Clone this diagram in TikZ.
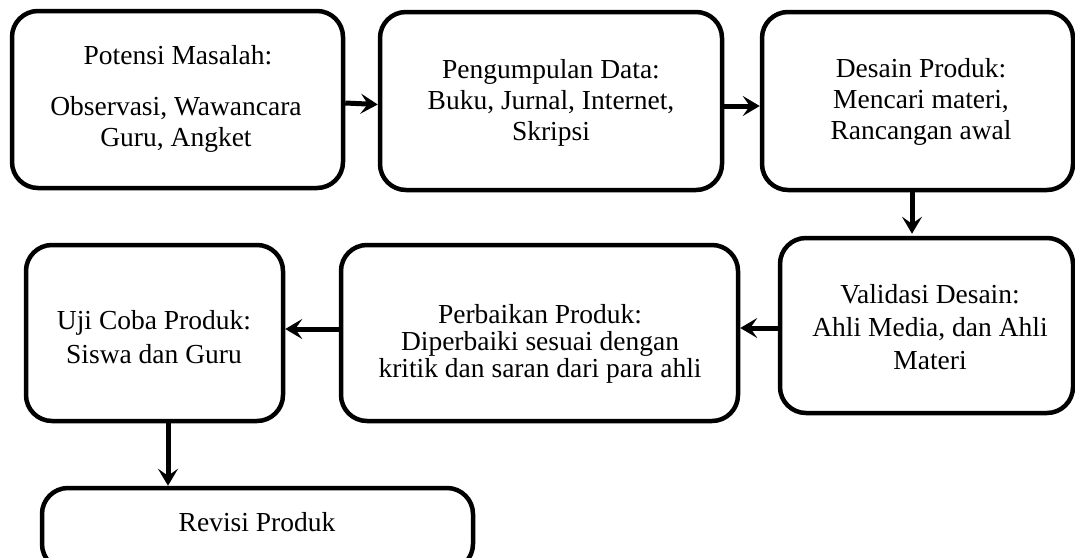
\documentclass[tikz,border=0pt]{standalone}
\usepackage{fontspec}
\setmainfont{Liberation Serif}
\usetikzlibrary{arrows.meta}
\begin{document}
\begin{tikzpicture}[x=1pt,y=-1pt,
  box/.style={draw=black, line width=4.5pt, rounded corners=26pt, inner sep=0pt, fill=white},
  txt/.style={align=center, inner sep=0pt, font=\fontsize{27.5}{31}\selectfont},
  arr/.style={line width=5pt, -{Stealth[length=17pt,width=20pt,inset=7pt]}}]
\useasboundingbox[fill=white] (0,0) rectangle (1075,557);
% boxes
\node[box, minimum width=331pt, minimum height=177pt] (b1) at (177.5,99.5) {};
\node[box, minimum width=342pt, minimum height=178pt] (b2) at (551,101) {};
\node[box, minimum width=311pt, minimum height=178pt] (b3) at (917.5,101) {};
\node[box, minimum width=293pt, minimum height=175pt] (b4) at (926.5,325.5) {};
\node[box, minimum width=397pt, minimum height=176pt] (b5) at (539.5,333) {};
\node[box, minimum width=257pt, minimum height=176pt] (b6) at (154.5,333) {};
\node[box, minimum width=431pt, minimum height=82pt] (b7) at (257.5,529) {};
% texts
\node[txt] (t1a) at (178,55) {Potensi Masalah:};
\node[txt] (t1b) at (176,124) {Observasi, Wawancara\\Guru, Angket};
\node[txt] (t2) at (551,103) {Pengumpulan Data:\\Buku, Jurnal, Internet,\\Skripsi};
\node[txt] (t3) at (921,102) {Desain Produk:\\Mencari materi,\\Rancangan awal};
\node[txt, font=\fontsize{27.5}{33}\selectfont] (t4) at (930,327) {Validasi Desain:\\Ahli Media, dan Ahli\\Materi};
\node[txt, font=\fontsize{27.5}{27}\selectfont] (t5) at (540,344) {Perbaikan Produk:\\Diperbaiki sesuai dengan\\kritik dan saran dari para ahli};
\node[txt, font=\fontsize{27.5}{34}\selectfont] (t6) at (154,337) {Uji Coba Produk:\\Siswa dan Guru};
\node[txt] (t7) at (257,522) {Revisi Produk};
% arrows
\draw[arr] ([yshift=-3.5pt]b1.east) -- ([yshift=-3.5pt]b2.west);
\draw[arr] ([yshift=-5pt]b2.east) -- ([yshift=-5pt]b3.west);
\draw[arr] ([xshift=-5.5pt]b3.south) -- ([xshift=-5.5pt,yshift=2pt]b3.south |- b4.north);
\draw[arr] ([yshift=-2.5pt]b4.west) -- ([yshift=-2.5pt]b4.west -| b5.east);
\draw[arr] ([yshift=4pt]b5.west) -- ([yshift=4pt]b5.west -| b6.east);
\draw[arr] ([xshift=13.5pt]b6.south) -- ([xshift=13.5pt]b6.south |- b7.north);
\end{tikzpicture}
\end{document}
